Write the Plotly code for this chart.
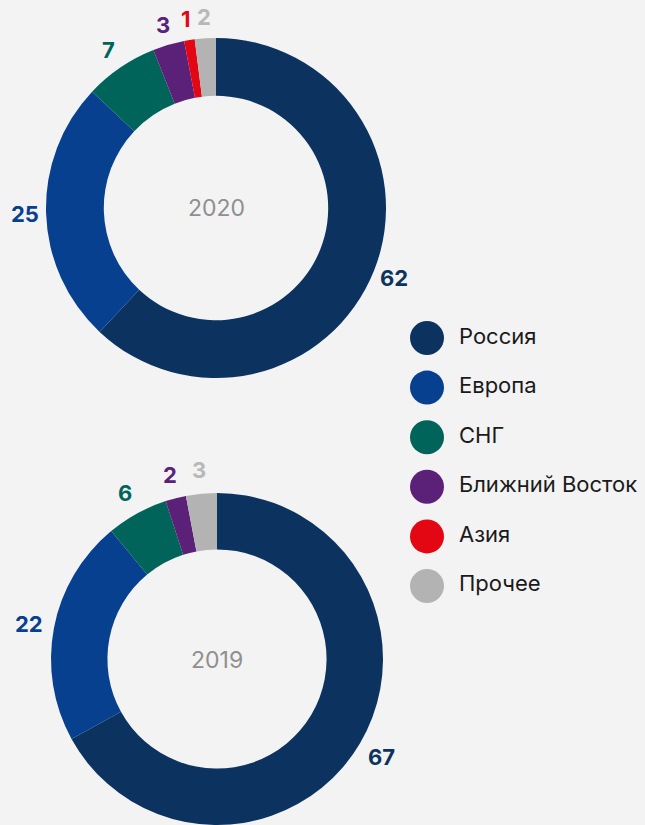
import math
import plotly.graph_objects as go

# доли экспорта по регионам, %
regions = ["Россия", "Европа", "СНГ", "Ближний Восток", "Азия", "Прочее"]
shares_2020 = [62, 25, 7, 3, 1, 2]
shares_2019 = [67, 22, 6, 2, 0, 3]
years = ["2020", "2019"]

colors = ["#0c335f", "#07408f", "#00645a", "#5b2179", "#e30613", "#b3b3b3"]
label_colors = ["#0c335f", "#07408f", "#00645a", "#5b2179", "#e30613", "#b8b8b8"]

W, H = 645, 825
BG = "#f3f3f3"
FONT = "Inter"

# центры и радиусы колец в пикселях
pies = [
    dict(values=shares_2020, year=years[0], cx=216, cy=208, r=170),
    dict(values=shares_2019, year=years[1], cx=217, cy=660, r=167),
]
LABEL_R = 191

fig = go.Figure()

for p in pies:
    cx, cy, r = p["cx"], p["cy"], p["r"]
    fig.add_trace(
        go.Pie(
            labels=regions,
            values=p["values"],
            domain=dict(x=[(cx - r) / W, (cx + r) / W],
                        y=[max(0, 1 - (cy + r) / H), 1 - (cy - r) / H]),
            hole=0.66,
            sort=False,
            direction="clockwise",
            rotation=0,
            marker=dict(colors=colors, line=dict(width=0)),
            textinfo="none",
            showlegend=False,
            hoverinfo="label+value",
        )
    )
    # подписи значений снаружи кольца, по середине сектора
    total = sum(p["values"])
    acc = 0
    for v, c in zip(p["values"], label_colors):
        if v:
            ang = 2 * math.pi * (acc + v / 2) / total
            px = cx + LABEL_R * math.sin(ang)
            py = cy - LABEL_R * math.cos(ang)
            fig.add_annotation(
                x=px / W, y=1 - py / H, xref="paper", yref="paper", text=f"<b>{v}</b>",
                showarrow=False, xanchor="center", yanchor="middle",
                font=dict(family=FONT, size=22, color=c),
            )
        acc += v
    fig.add_annotation(
        x=cx / W, y=1 - cy / H, xref="paper", yref="paper", text=p["year"],
        showarrow=False, xanchor="center", yanchor="middle",
        font=dict(family=FONT, size=23, color="#8f8f8f"),
    )

# легенда — кружки + подписи
idx = list(range(len(regions)))
fig.add_trace(
    go.Scatter(
        x=[0] * len(regions), y=idx, mode="markers",
        marker=dict(size=34, color=colors, line=dict(width=0)),
        showlegend=False, hoverinfo="skip",
    )
)
fig.add_trace(
    go.Scatter(
        x=[1] * len(regions), y=idx, mode="text", text=regions,
        textposition="middle right",
        textfont=dict(family=FONT, size=22, color="#1a1a1a"),
        showlegend=False, hoverinfo="skip",
    )
)

fig.update_layout(
    width=W, height=H,
    margin=dict(l=0, r=0, t=0, b=0),
    paper_bgcolor=BG, plot_bgcolor=BG,
    xaxis=dict(domain=[400 / W, 1], range=[-27 / 32, -27 / 32 + 245 / 32], visible=False, fixedrange=True),
    yaxis=dict(domain=[1 - 622 / H, 1 - 302 / H], range=[5.726, -0.726], visible=False, fixedrange=True),
)

fig.write_html("out.html", config={"displayModeBar": False},
               post_script="document.body.style.margin='0';")
